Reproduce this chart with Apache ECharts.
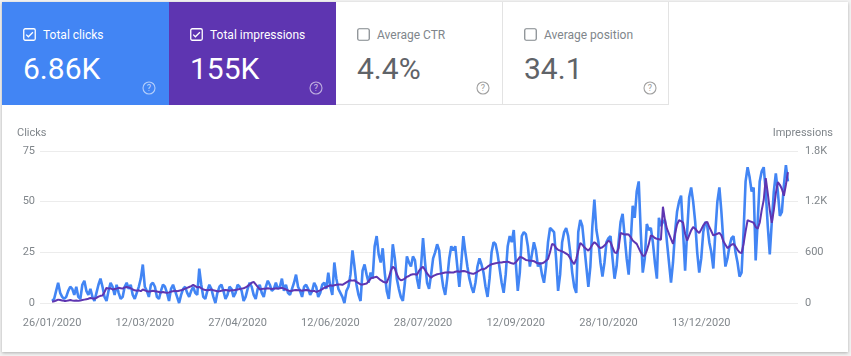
<!DOCTYPE html>
<html>
<head>
<meta charset="utf-8">
<script src="https://cdn.jsdelivr.net/npm/echarts@6/dist/echarts.min.js"></script>
<style>
  html, body { margin: 0; padding: 0; width: 851px; height: 356px; background: #f2f2f2; overflow: hidden; font-family: Roboto, "Noto Sans", Arial, sans-serif; }
  #card { position: absolute; left: 2px; top: 2px; width: 846px; height: 350px; background: #fff; box-shadow: 0 1px 3px rgba(0,0,0,0.28); z-index: 0; }
  #chart { position: absolute; left: 0; top: 0; width: 851px; height: 356px; z-index: 1; }
  .tile { position: absolute; top: 2px; height: 103px; width: 167px; z-index: 2; box-sizing: border-box; }
  .tile .lbl { position: absolute; left: 41px; top: 27px; font-size: 12px; line-height: 12px; white-space: nowrap; }
  .tile .val { position: absolute; left: 21px; top: 52px; font-size: 30px; line-height: 30px; white-space: nowrap; }
  .tile .cb { position: absolute; left: 21px; top: 26px; width: 13px; height: 13px; }
  .tile .help { position: absolute; left: 140px; top: 79px; width: 14px; height: 14px; }
  .on { color: #fff; }
  .off { background: #fff; border-right: 1px solid #e3e3e3; border-bottom: 1px solid #e3e3e3; }
  .off .lbl { color: #80868b; }
  .off .val { color: #5f6368; }
</style>
</head>
<body>
<div id="card"></div>
<div id="chart"></div>

<div class="tile on" style="left:2px;background:#4285f4;">
  <svg class="cb" viewBox="0 0 13 13"><rect x="0.75" y="0.75" width="11.5" height="11.5" rx="1.5" fill="none" stroke="#fff" stroke-width="1.3"/><path d="M3.2 6.6 L5.4 8.8 L9.9 4.2" fill="none" stroke="#fff" stroke-width="1.3"/></svg>
  <div class="lbl">Total clicks</div>
  <div class="val">6.86K</div>
  <svg class="help" viewBox="0 0 14 14"><circle cx="7" cy="7" r="6" fill="none" stroke="rgba(255,255,255,0.6)" stroke-width="1.1"/><text x="7" y="10.3" font-size="9" text-anchor="middle" fill="rgba(255,255,255,0.7)" font-family="Roboto">?</text></svg>
</div>

<div class="tile on" style="left:169px;background:#5e35b1;">
  <svg class="cb" viewBox="0 0 13 13"><rect x="0.75" y="0.75" width="11.5" height="11.5" rx="1.5" fill="none" stroke="#fff" stroke-width="1.3"/><path d="M3.2 6.6 L5.4 8.8 L9.9 4.2" fill="none" stroke="#fff" stroke-width="1.3"/></svg>
  <div class="lbl">Total impressions</div>
  <div class="val">155K</div>
  <svg class="help" viewBox="0 0 14 14"><circle cx="7" cy="7" r="6" fill="none" stroke="rgba(255,255,255,0.6)" stroke-width="1.1"/><text x="7" y="10.3" font-size="9" text-anchor="middle" fill="rgba(255,255,255,0.7)" font-family="Roboto">?</text></svg>
</div>

<div class="tile off" style="left:336px;">
  <svg class="cb" viewBox="0 0 13 13"><rect x="0.75" y="0.75" width="11.5" height="11.5" rx="1.5" fill="none" stroke="#80868b" stroke-width="1.2"/></svg>
  <div class="lbl">Average CTR</div>
  <div class="val">4.4%</div>
  <svg class="help" viewBox="0 0 14 14"><circle cx="7" cy="7" r="6" fill="none" stroke="#a0a0a0" stroke-width="1.1"/><text x="7" y="10.3" font-size="9" text-anchor="middle" fill="#9a9a9a" font-family="Roboto">?</text></svg>
</div>

<div class="tile off" style="left:503px;width:166px;">
  <svg class="cb" viewBox="0 0 13 13"><rect x="0.75" y="0.75" width="11.5" height="11.5" rx="1.5" fill="none" stroke="#80868b" stroke-width="1.2"/></svg>
  <div class="lbl">Average position</div>
  <div class="val">34.1</div>
  <svg class="help" viewBox="0 0 14 14"><circle cx="7" cy="7" r="6" fill="none" stroke="#a0a0a0" stroke-width="1.1"/><text x="7" y="10.3" font-size="9" text-anchor="middle" fill="#9a9a9a" font-family="Roboto">?</text></svg>
</div>

<script>
// ---- DATA (daily, starting 26/01/2020) ----
const startDate = '2020-01-26';

const clicks = [
  1, 2, 6, 10, 5, 3, 2,
  3, 6, 8, 7, 4, 8, 3,
  2, 9, 11, 6, 4, 7, 3,
  1, 5, 9, 12, 8, 3, 1,
  6, 10, 8, 4, 9, 5, 2,
  3, 8, 10, 7, 9, 4, 2,
  5, 8, 12, 19, 8, 6, 3,
  9, 10, 8, 3, 2, 6, 9,
  8, 5, 1, 7, 9, 6, 3,
  0, 4, 7, 8, 5, 3, 6,
  8, 5, 4, 17, 9, 3, 2,
  6, 9, 7, 3, 0, 5, 8,
  9, 6, 2, 4, 8, 7, 3,
  5, 9, 8, 6, 1, 3, 7,
  10, 8, 4, 2, 7, 9, 5,
  3, 8, 11, 9, 6, 7, 10,
  7, 8, 12, 6, 9, 5, 4,
  7, 10, 14, 8, 6, 3, 8,
  9, 7, 4, 6, 10, 8, 3,
  5, 9, 10, 7, 15, 8, 4,
  20, 12, 7, 5, 3, 0, 6,
  8, 14, 26, 18, 9, 4, 1,
  16, 19, 14, 10, 15, 12, 28,
  33, 24, 20, 27, 15, 6, 2,
  14, 29, 22, 12, 7, 3, 1,
  10, 23, 20, 18, 23, 21, 12,
  7, 18, 32, 20, 10, 7, 14,
  22, 25, 29, 26, 15, 8, 4,
  12, 22, 28, 26, 28, 18, 8,
  20, 33, 25, 18, 12, 8, 5,
  10, 18, 22, 19, 15, 8, 3,
  12, 25, 30, 29, 24, 17, 10,
  5, 14, 28, 33, 30, 36, 20,
  6, 15, 33, 35, 34, 28, 18,
  24, 30, 26, 18, 20, 14, 10,
  18, 30, 37, 36, 35, 22, 6,
  14, 30, 35, 37, 33, 25, 15,
  8, 5, 35, 41, 38, 28, 18,
  8, 18, 38, 51, 36, 30, 20,
  13, 20, 30, 32, 33, 22, 12,
  18, 30, 40, 44, 33, 22, 14,
  30, 48, 42, 55, 60, 35, 15,
  22, 39, 36, 37, 30, 20, 12,
  42, 38, 40, 41, 30, 20, 10,
  20, 35, 45, 50, 53, 35, 16,
  35, 52, 57, 50, 40, 25, 15,
  22, 35, 40, 38, 30, 25, 17,
  35, 50, 57, 45, 30, 18, 22,
  28, 32, 33, 25, 20, 13, 15,
  35, 60, 67, 62, 55, 57, 21,
  40, 60, 65, 67, 55, 38, 24,
  40, 55, 64, 55, 43, 45, 58,
  68, 60
];

const impressions = [
  15, 20, 30, 40, 35, 30, 25,
  25, 30, 35, 30, 28, 30, 25,
  30, 35, 40, 45, 50, 60, 55,
  50, 60, 75, 85, 90, 130, 180,
  170, 175, 160, 165, 170, 180, 175,
  170, 185, 190, 185, 175, 160, 150,
  145, 150, 140, 160, 150, 140, 135,
  140, 145, 140, 135, 130, 125, 130,
  125, 120, 125, 135, 140, 145, 140,
  145, 150, 160, 170, 180, 190, 200,
  215, 200, 185, 190, 175, 160, 155,
  150, 155, 160, 150, 145, 140, 140,
  145, 150, 155, 150, 145, 150, 150,
  155, 160, 165, 170, 175, 185, 200,
  220, 240, 250, 220, 190, 160, 165,
  170, 170, 175, 170, 165, 170, 175,
  170, 175, 180, 170, 160, 150, 140,
  145, 150, 155, 150, 150, 145, 150,
  155, 150, 145, 140, 145, 130, 140,
  150, 165, 180, 190, 200, 210, 205,
  210, 215, 220, 220, 215, 230, 245,
  260, 270, 265, 270, 250, 235, 220,
  220, 225, 230, 260, 290, 300, 305,
  310, 290, 270, 255, 245, 240, 300,
  380, 430, 410, 340, 290, 270, 275,
  290, 310, 320, 335, 340, 340, 335,
  380, 410, 430, 390, 350, 320, 300,
  320, 330, 340, 345, 350, 355, 360,
  360, 365, 360, 360, 370, 375, 370,
  375, 380, 375, 365, 355, 350, 345,
  355, 370, 385, 400, 400, 410, 430,
  445, 460, 465, 470, 475, 480, 480,
  485, 485, 490, 480, 470, 465, 480,
  510, 545, 540, 525, 510, 505, 500,
  500, 495, 480, 470, 465, 470, 480,
  500, 520, 600, 700, 690, 650, 630,
  620, 610, 600, 585, 570, 530, 490,
  460, 520, 620, 710, 690, 660, 640,
  620, 650, 690, 720, 700, 670, 650,
  660, 680, 710, 740, 720, 660, 600,
  590, 650, 830, 820, 810, 815, 810,
  780, 740, 720, 700, 650, 600, 560,
  560, 620, 700, 800, 790, 770, 760,
  755, 750, 1140, 980, 880, 820, 760,
  700, 820, 930, 980, 970, 950, 820,
  740, 800, 860, 900, 880, 850, 830,
  870, 920, 950, 960, 900, 850, 800,
  810, 820, 830, 800, 730, 690, 650,
  670, 690, 700, 670, 630, 600, 590,
  700, 850, 980, 970, 960, 950, 900,
  880, 950, 1100, 1220, 1480, 1300, 1100,
  950, 1100, 1300, 1430, 1400, 1350, 1270,
  1400, 1550
];

const xTickLabels = ['26/01/2020', '12/03/2020', '27/04/2020', '12/06/2020', '28/07/2020', '12/09/2020', '28/10/2020', '13/12/2020'];
const clicksTicks = [0, 25, 50, 75];
const impressionTicks = [0, 600, 1200, 1800];

// ---- helpers ----
const DAY = 86400000;
function parseDMY(s) { const p = s.split('/'); return Date.UTC(+p[2], +p[1] - 1, +p[0]); }
const start = Date.UTC(2020, 0, 26);
const tickDays = xTickLabels.map(s => Math.round((parseDMY(s) - start) / DAY));

const chart = echarts.init(document.getElementById('chart'), null, { renderer: 'canvas' });
const axisText = { color: '#80868b', fontSize: 11, fontFamily: 'Roboto' };

chart.setOption({
  backgroundColor: 'transparent',
  animation: false,
  grid: { left: 40, right: 53, top: 151, bottom: 53 },
  graphic: [
    { type: 'text', left: 17, top: 128, style: { text: 'Clicks', fill: '#80868b', font: '11px Roboto' } },
    { type: 'text', right: 18, top: 128, style: { text: 'Impressions', fill: '#80868b', font: '11px Roboto' } }
  ],
  xAxis: {
    type: 'value',
    min: -6, max: 370,
    axisLine: { show: false },
    axisTick: { show: false },
    splitLine: { show: false },
    axisLabel: Object.assign({}, axisText, {
      customValues: tickDays,
      margin: 15,
      formatter: v => { const i = tickDays.indexOf(v); return i >= 0 ? xTickLabels[i] : ''; }
    })
  },
  yAxis: [
    {
      type: 'value', min: clicksTicks[0], max: clicksTicks[clicksTicks.length - 1], interval: clicksTicks[1] - clicksTicks[0],
      axisLine: { show: false }, axisTick: { show: false },
      splitLine: { lineStyle: { color: '#ececec', width: 1 } },
      axisLabel: Object.assign({}, axisText, { margin: 5 })
    },
    {
      type: 'value', min: impressionTicks[0], max: impressionTicks[impressionTicks.length - 1], interval: impressionTicks[1] - impressionTicks[0],
      position: 'right',
      axisLine: { show: false }, axisTick: { show: false },
      splitLine: { show: false },
      axisLabel: Object.assign({}, axisText, { margin: 7, formatter: v => v >= 1000 ? (v / 1000) + 'K' : String(v) })
    }
  ],
  series: [
    {
      name: 'Clicks', type: 'line', yAxisIndex: 0, showSymbol: false, symbol: 'none',
      lineStyle: { color: '#4285f4', width: 2.6 },
      data: clicks.map((v, i) => [i, v])
    },
    {
      name: 'Impressions', type: 'line', yAxisIndex: 1, showSymbol: false, symbol: 'none',
      lineStyle: { color: '#5e35b1', width: 2 },
      data: impressions.map((v, i) => [i, v])
    }
  ]
});
</script>
</body>
</html>
